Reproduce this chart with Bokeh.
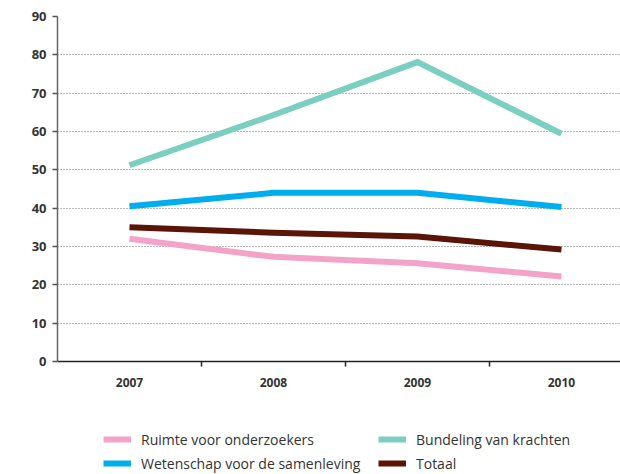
from bokeh.plotting import figure
from bokeh.models import Range1d, FixedTicker, Legend, LegendItem
from bokeh.layouts import column
from bokeh.embed import file_html
from bokeh.resources import INLINE

years = ["2007", "2008", "2009", "2010"]
ruimte = [32, 27.3, 25.6, 22.2]
bundeling = [51.2, 64.3, 78.1, 59.4]
wetenschap = [40.5, 44, 44, 40.3]
totaal = [35, 33.6, 32.6, 29.2]

names = ["Ruimte voor onderzoekers", "Bundeling van krachten",
         "Wetenschap voor de samenleving", "Totaal"]
colors = ["#F4A3C8", "#7ACFC0", "#00AEEF", "#5A1508"]
series = [ruimte, bundeling, wetenschap, totaal]

xs = list(range(len(years)))

p = figure(width=620, height=400, output_backend="svg", toolbar_location=None,
           x_range=Range1d(-0.5, 3.41), y_range=Range1d(0, 90),
           min_border_left=57, min_border_right=0, min_border_top=16,
           min_border_bottom=39)
p.outline_line_color = None
p.background_fill_color = "white"
p.border_fill_color = "white"

for vals, c in zip(series, colors):
    p.line(xs, vals, line_color=c, line_width=6, line_join="miter", line_cap="butt")

# x axis
xa = p.xaxis[0]
xa.ticker = FixedTicker(ticks=xs, minor_ticks=[0.5, 1.5, 2.5])
xa.major_label_overrides = {i: y for i, y in enumerate(years)}
xa.major_tick_out = 0
xa.major_tick_in = 0
xa.minor_tick_out = 5
xa.minor_tick_in = 0
xa.minor_tick_line_color = "#222222"
xa.minor_tick_line_width = 1.5
xa.axis_line_color = "#222222"
xa.axis_line_width = 1.5
xa.major_label_text_font = "Open Sans"
xa.major_label_text_font_style = "bold"
xa.major_label_text_font_size = "12px"
xa.major_label_text_color = "#333333"
xa.major_label_standoff = 11

# y axis
ya = p.yaxis[0]
ya.ticker = FixedTicker(ticks=list(range(0, 91, 10)))
ya.major_tick_out = 5
ya.major_tick_in = 0
ya.major_tick_line_color = "#555555"
ya.major_tick_line_width = 1.5
ya.minor_tick_out = 0
ya.minor_tick_in = 0
ya.axis_line_color = "#666666"
ya.axis_line_width = 1.5
ya.major_label_text_font = "Open Sans"
ya.major_label_text_font_style = "bold"
ya.major_label_text_font_size = "13px"
ya.major_label_text_color = "#333333"
ya.major_label_standoff = 6

p.xgrid.grid_line_color = None
p.ygrid.grid_line_color = "#777777"
p.ygrid.grid_line_dash = "1 2"
p.ygrid.grid_line_width = 1

# legend figure
p2 = figure(width=620, height=74, output_backend="svg", toolbar_location=None,
            x_range=Range1d(0, 1), y_range=Range1d(0, 1),
            min_border=0, x_axis_type=None, y_axis_type=None)
p2.outline_line_color = None
p2.grid.grid_line_color = None
leg_renderers = []
for vals, c in zip(series, colors):
    r = p2.line(xs, vals, line_color=c, line_width=6, line_cap="butt", visible=False)
    leg_renderers.append(r)

items = [LegendItem(label=n, renderers=[r]) for n, r in zip(names, leg_renderers)]
legend = Legend(items=items, location=(46, 1), orientation="horizontal", ncols=2,
                glyph_width=28, glyph_height=20, label_height=20, label_width=233,
                label_standoff=10, spacing=4, padding=0, margin=0,
                label_text_font="Open Sans", label_text_font_size="14px",
                label_text_color="#333333", background_fill_alpha=0,
                border_line_color=None, inactive_fill_alpha=0)
p2.add_layout(legend, "center")

layout = column(p, p2, spacing=0)
open("out.html", "w").write(file_html(layout, INLINE))
